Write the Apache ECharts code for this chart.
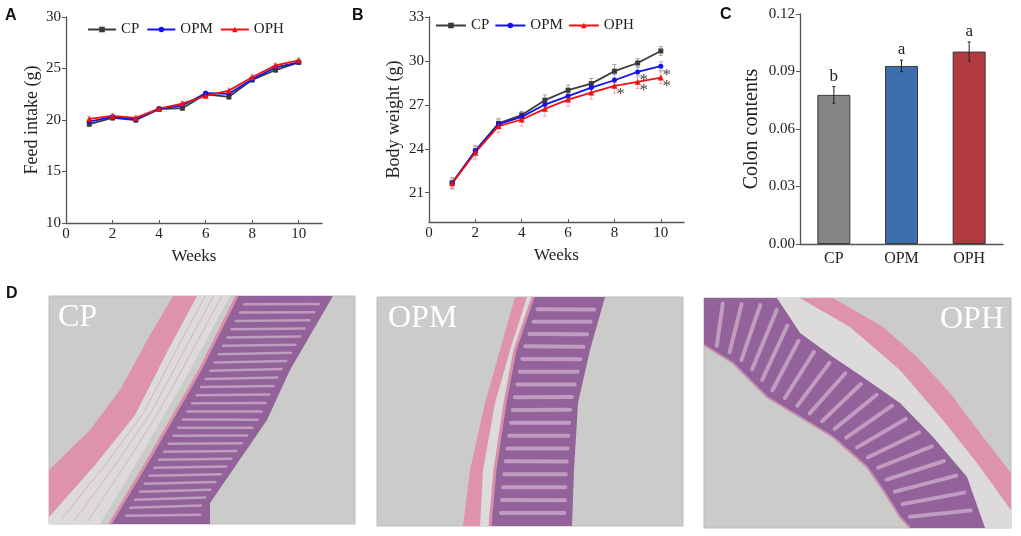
<!DOCTYPE html>
<html>
<head>
<meta charset="utf-8">
<script src="https://cdn.jsdelivr.net/npm/echarts@6/dist/echarts.min.js"></script>
<style>
html,body{margin:0;padding:0;background:#fff;}
#main{width:1021px;height:536px;}
</style>
</head>
<body>
<div id="main"></div>
<script>
// ---- data ----
var weeks = [1, 2, 3, 4, 5, 6, 7, 8, 9, 10];
var weekTicks = [0, 2, 4, 6, 8, 10];
var groups = ['CP', 'OPM', 'OPH'];

// A: feed intake (g)
var feedCP  = [19.6, 20.2, 20.0, 21.05, 21.15, 22.5, 22.25, 23.9, 24.85, 25.6];
var feedOPM = [19.85, 20.3, 20.05, 21.1, 21.4, 22.6, 22.55, 23.95, 25.1, 25.6];
var feedOPH = [20.1, 20.4, 20.2, 21.1, 21.6, 22.35, 22.85, 24.15, 25.3, 25.8];
var feedErr = [0.25, 0.2, 0.2, 0.2, 0.2, 0.2, 0.25, 0.25, 0.2, 0.2];
var feedTicks = [10, 15, 20, 25, 30];

// B: body weight (g)
var bwCP  = [21.68, 23.86, 25.73, 26.3, 27.32, 28.0, 28.45, 29.3, 29.86, 30.68];
var bwOPM = [21.64, 23.86, 25.68, 26.18, 27.02, 27.6, 28.18, 28.68, 29.25, 29.64];
var bwOPH = [21.64, 23.75, 25.55, 26.0, 26.73, 27.36, 27.84, 28.3, 28.57, 28.86];
var bwErrCP  = [0.35, 0.3, 0.35, 0.25, 0.35, 0.35, 0.35, 0.45, 0.3, 0.3];
var bwErrOPM = [0.35, 0.35, 0.3, 0.3, 0.35, 0.35, 0.35, 0.4, 0.35, 0.3];
var bwErrOPH = [0.4, 0.45, 0.45, 0.45, 0.5, 0.45, 0.45, 0.5, 0.45, 0.4];
var bwTicks = [21, 24, 27, 30, 33];
// significant points: [week, group]
var sigMarks = [[8, 'OPH'], [9, 'OPM'], [9, 'OPH'], [10, 'OPM'], [10, 'OPH']];

// C: colon contents
var colon = [0.0778, 0.0929, 0.1004];
var colonErr = [0.0043, 0.003, 0.005];
var colonLetters = ['b', 'a', 'a'];
var colonTicks = [0, 0.03, 0.06, 0.09, 0.12];

// ---- styles ----
var serif = 'Liberation Serif';
var col = {CP: '#3a3a3a', OPM: '#1212ee', OPH: '#ee1212'};
var errCol = {CP: '#a0a0a0', OPM: '#a8a8d8', OPH: '#f0a8a8'};
var sym = {CP: 'rect', OPM: 'circle', OPH: 'triangle'};
var barCol = ['#858585', '#3e6eae', '#b03a3f'];

var chart = echarts.init(document.getElementById('main'));

function pairs(xs, ys){ return xs.map(function(x, i){ return [x, ys[i]]; }); }

function lineSeries(name, gi, vals){
  return {
    name: name, type: 'line', xAxisIndex: gi, yAxisIndex: gi, z: 5,
    data: pairs(weeks, vals), symbol: sym[name], symbolSize: name == 'OPH' ? 6 : 5,
    itemStyle: {color: col[name]}, lineStyle: {color: col[name], width: 1.8}
  };
}

function errSeries(gi, xs, vals, errs, color, cap){
  return {
    type: 'custom', xAxisIndex: gi, yAxisIndex: gi, z: 3, silent: true,
    data: xs.map(function(x, i){ return [x, vals[i], errs[i]]; }),
    renderItem: function(params, api){
      var x = api.value(0), v = api.value(1), e = api.value(2);
      var hi = api.coord([x, v + e]), lo = api.coord([x, v - e]);
      var st = {stroke: color, lineWidth: 1};
      return {type: 'group', children: [
        {type: 'line', shape: {x1: hi[0], y1: hi[1], x2: lo[0], y2: lo[1]}, style: st},
        {type: 'line', shape: {x1: hi[0] - cap, y1: hi[1], x2: hi[0] + cap, y2: hi[1]}, style: st},
        {type: 'line', shape: {x1: lo[0] - cap, y1: lo[1], x2: lo[0] + cap, y2: lo[1]}, style: st}
      ]};
    }
  };
}

function weekAxis(gi){
  return {
    type: 'value', gridIndex: gi, min: 0, max: 11,
    name: 'Weeks', nameLocation: 'middle', nameGap: 25,
    nameTextStyle: {fontFamily: serif, fontSize: 17, color: '#222'},
    axisLine: {lineStyle: {color: '#555', width: 1.3}},
    axisTick: {inside: true, length: 3, customValues: weekTicks, lineStyle: {color: '#555'}},
    axisLabel: {customValues: weekTicks, fontFamily: serif, fontSize: 15, color: '#222', margin: 4},
    splitLine: {show: false}
  };
}

function valAxis(gi, min, max, ticks, name, gap, fmt, nameSize){
  return {
    type: 'value', gridIndex: gi, min: min, max: max,
    name: name, nameLocation: 'middle', nameGap: gap,
    nameTextStyle: {fontFamily: serif, fontSize: nameSize || 18, color: '#222'},
    axisLine: {show: true, lineStyle: {color: '#555', width: 1.3}},
    axisTick: {show: true, length: 4, customValues: ticks, lineStyle: {color: '#555'}},
    axisLabel: {customValues: ticks, fontFamily: serif, fontSize: 15, color: '#222', margin: 5,
      formatter: fmt},
    splitLine: {show: false}
  };
}

var bwByName = {CP: bwCP, OPM: bwOPM, OPH: bwOPH};

// ---- histology panels (decorative) ----
function pointAt(edge, t){
  var d = [0], i;
  for (i = 1; i < edge.length; i++){
    d.push(d[i - 1] + Math.hypot(edge[i][0] - edge[i - 1][0], edge[i][1] - edge[i - 1][1]));
  }
  var L = d[d.length - 1] * t;
  for (i = 1; i < edge.length; i++){
    if (L <= d[i]){
      var f = (L - d[i - 1]) / (d[i] - d[i - 1] || 1);
      return [edge[i - 1][0] + f * (edge[i][0] - edge[i - 1][0]), edge[i - 1][1] + f * (edge[i][1] - edge[i - 1][1])];
    }
  }
  return edge[edge.length - 1];
}

function band(a, b, fill){
  return {type: 'polygon', shape: {points: a.concat(b.slice().reverse())}, style: {fill: fill}};
}

function crypts(a, b, n, color, w){
  var out = [];
  for (var k = 1; k < n; k++){
    var p = pointAt(a, k / n), q = pointAt(b, k / n);
    out.push({type: 'line', shape: {x1: p[0] + (q[0] - p[0]) * 0.12, y1: p[1] + (q[1] - p[1]) * 0.12,
      x2: p[0] + (q[0] - p[0]) * 0.9, y2: p[1] + (q[1] - p[1]) * 0.9},
      style: {stroke: color, lineWidth: w, lineCap: 'round'}});
  }
  return out;
}

function fibres(a, b, n, color){
  var out = [];
  for (var k = 1; k < n; k++){
    var pts = [];
    for (var j = 0; j <= 10; j++){
      var p = pointAt(a, j / 10), q = pointAt(b, j / 10);
      pts.push([p[0] + (q[0] - p[0]) * k / n, p[1] + (q[1] - p[1]) * k / n]);
    }
    out.push({type: 'polyline', shape: {points: pts}, style: {stroke: color, lineWidth: 0.8, fill: null}});
  }
  return out;
}

function histo(x, y, w, h, label, lx, parts){
  var kids = [{type: 'rect', shape: {x: x, y: y, width: w, height: h},
    style: {fill: '#cbcbc9', stroke: '#bdbdbb', lineWidth: 1}}];
  kids = kids.concat(parts);
  kids.push({type: 'text', x: lx, y: y + 22, style: {text: label, fill: '#fff',
    font: '32px "Liberation Serif"', verticalAlign: 'middle'}});
  return {type: 'group', children: kids};
}

var pink = '#df93aa', purple = '#93629a', loose = '#dcdada', cryptCol = '#bf9cc0';

// CP
var cpMusA = [[173, 296], [150, 335], [120, 390], [90, 430], [49, 470]];
var cpMusB = [[197, 296], [168, 350], [135, 415], [95, 465], [49, 517]];
var cpMucA = [[237, 296], [200, 370], [150, 457], [110, 524]];
var cpMucB = [[333, 296], [290, 370], [267, 420], [210, 503], [210, 524]];
var cpLoose = [[230, 296], [190, 370], [140, 457], [100, 524]];
var cpParts = [band(cpMusB.concat([[49, 524]]), cpLoose, loose)]
  .concat(fibres(cpMusB, cpLoose, 4, '#d9a7b6'))
  .concat([band(cpMusA, cpMusB, pink), band(cpMucA, cpMucB, purple)])
  .concat(crypts(cpMucA, cpMucB, 28, cryptCol, 2.5))
  .concat([{type: 'polyline', shape: {points: cpMucA}, style: {stroke: '#d890aa', lineWidth: 3, fill: null}}]);

// OPM
var opmMusA = [[515, 297], [500, 350], [485, 403], [470, 470], [463, 526]];
var opmMusB = [[527, 297], [510, 350], [495, 403], [483, 470], [480, 526]];
var opmMucA = [[533, 297], [515, 350], [505, 403], [495, 470], [490, 526]];
var opmMucB = [[605, 297], [590, 350], [578, 403], [574, 470], [572, 526]];
var opmParts = [band(opmMusB, opmMucA, loose), band(opmMusA, opmMusB, pink),
  band(opmMucA, opmMucB, purple)]
  .concat(crypts(opmMucA, opmMucB, 18, cryptCol, 4))
  .concat([{type: 'polyline', shape: {points: opmMucA}, style: {stroke: '#d890aa', lineWidth: 3, fill: null}}]);

// OPH
var ophMucA = [[704, 298], [777, 298], [800, 333], [833, 357], [867, 380], [900, 403], [933, 437], [967, 477], [985, 528]];
var ophMucB = [[704, 345], [733, 363], [767, 397], [800, 417], [833, 437], [867, 467], [883, 490], [900, 517], [910, 528]];
var ophMusA = [[800, 298], [850, 327], [900, 370], [943, 420], [977, 463], [1011, 510]];
var ophMusB = [[833, 298], [883, 327], [917, 357], [950, 393], [983, 437], [1011, 473]];
var ophParts = [
  {type: 'polygon', shape: {points: [[777, 298], [800, 298], [850, 327], [900, 370], [943, 420], [977, 463], [1011, 510], [1011, 528], [985, 528], [967, 477], [933, 437], [900, 403], [867, 380], [833, 357], [800, 333]]}, style: {fill: loose}},
  band(ophMusA, ophMusB, pink), band(ophMucB, ophMucA, purple)]
  .concat(crypts(ophMucB, ophMucA, 20, cryptCol, 4))
  .concat([{type: 'polyline', shape: {points: ophMucB}, style: {stroke: '#c98fb0', lineWidth: 2, fill: null}}]);

function panelLetter(t, x, y){
  return {type: 'text', x: x, y: y, style: {text: t, fill: '#111', font: 'bold 16px "Liberation Sans"'}};
}

var legendText = {fontFamily: serif, fontSize: 15, color: '#222'};

var option = {
  animation: false,
  backgroundColor: '#fff',
  grid: [
    {left: 66, top: 17, width: 256, height: 206},
    {left: 429, top: 17, width: 255, height: 205},
    {left: 800, top: 14, width: 203, height: 230}
  ],
  legend: [
    {data: groups, left: 87, top: 22, padding: 0, itemWidth: 28, itemHeight: 7, itemGap: 7,
      textStyle: legendText},
    {data: groups, left: 435, top: 18, padding: 0, itemWidth: 30, itemHeight: 7, itemGap: 5,
      textStyle: legendText}
  ],
  xAxis: [
    weekAxis(0),
    weekAxis(1),
    {type: 'category', gridIndex: 2, data: groups,
      axisLine: {lineStyle: {color: '#555', width: 1.3}},
      axisTick: {show: false},
      axisLabel: {fontFamily: serif, fontSize: 16, color: '#222', margin: 7}}
  ],
  yAxis: [
    valAxis(0, 10, 30, feedTicks, 'Feed intake (g)', 25),
    valAxis(1, 19, 33, bwTicks, 'Body weight (g)', 26),
    valAxis(2, 0, 0.12, colonTicks, 'Colon contents', 38,
      function(v){ return v.toFixed(2); }, 20)
  ],
  series: [
    errSeries(0, weeks, feedCP, feedErr, errCol.CP, 2),
    errSeries(0, weeks, feedOPM, feedErr, errCol.OPM, 2),
    errSeries(0, weeks, feedOPH, feedErr, errCol.OPH, 2),
    lineSeries('CP', 0, feedCP),
    lineSeries('OPM', 0, feedOPM),
    lineSeries('OPH', 0, feedOPH),
    errSeries(1, weeks, bwCP, bwErrCP, errCol.CP, 2),
    errSeries(1, weeks, bwOPM, bwErrOPM, errCol.OPM, 2),
    errSeries(1, weeks, bwOPH, bwErrOPH, errCol.OPH, 2),
    lineSeries('CP', 1, bwCP),
    lineSeries('OPM', 1, bwOPM),
    lineSeries('OPH', 1, bwOPH),
    {
      type: 'custom', xAxisIndex: 1, yAxisIndex: 1, z: 6, silent: true,
      data: sigMarks.map(function(m){ return [m[0], bwByName[m[1]][m[0] - 1]]; }),
      renderItem: function(params, api){
        var p = api.coord([api.value(0), api.value(1)]);
        return {type: 'text', x: p[0] + 6, y: p[1] + 9,
          style: {text: '*', fill: '#444', font: '17px "Liberation Serif"', align: 'center', verticalAlign: 'middle'}};
      }
    },
    {
      type: 'bar', xAxisIndex: 2, yAxisIndex: 2, barWidth: 33, z: 2,
      data: colon.map(function(v, i){
        return {value: v, itemStyle: {color: barCol[i], borderColor: '#3a3a3a', borderWidth: 1}};
      })
    },
    {
      type: 'custom', xAxisIndex: 2, yAxisIndex: 2, z: 4, silent: true,
      data: colon.map(function(v, i){ return [i, v, colonErr[i]]; }),
      renderItem: function(params, api){
        var x = api.value(0), v = api.value(1), e = api.value(2);
        var hi = api.coord([x, v + e]), lo = api.coord([x, v - e]);
        var st = {stroke: '#222', lineWidth: 1};
        return {type: 'group', children: [
          {type: 'line', shape: {x1: hi[0], y1: hi[1], x2: lo[0], y2: lo[1]}, style: st},
          {type: 'line', shape: {x1: hi[0] - 1.5, y1: hi[1], x2: hi[0] + 1.5, y2: hi[1]}, style: st},
          {type: 'line', shape: {x1: lo[0] - 1.5, y1: lo[1], x2: lo[0] + 1.5, y2: lo[1]}, style: st},
          {type: 'text', x: hi[0], y: hi[1] - 2, style: {text: colonLetters[params.dataIndex], fill: '#222',
            font: '17px "Liberation Serif"', align: 'center', verticalAlign: 'bottom'}}
        ]};
      }
    }
  ],
  graphic: [
    panelLetter('A', 5, 8), panelLetter('B', 352, 8), panelLetter('C', 720, 7), panelLetter('D', 6, 286),
    histo(49, 296, 306, 228, 'CP', 58, cpParts),
    histo(377, 297, 306, 229, 'OPM', 388, opmParts),
    histo(704, 298, 307, 230, 'OPH', 940, ophParts)
  ]
};

chart.setOption(option);
</script>
</body>
</html>
